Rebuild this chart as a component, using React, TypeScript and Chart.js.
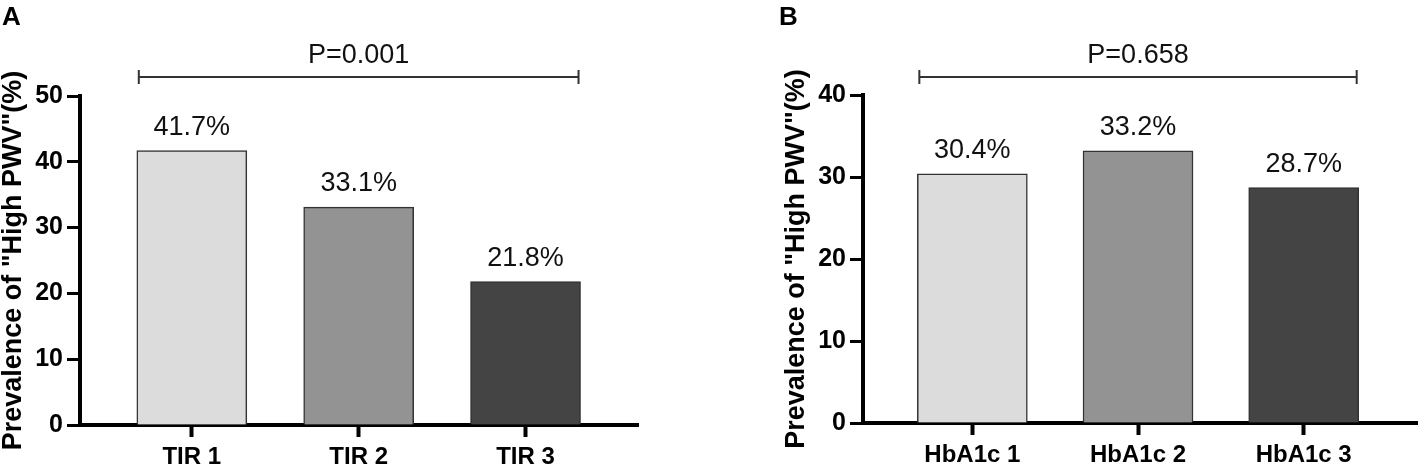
import { useEffect, useRef } from "react"
import { Chart, registerables } from "chart.js"

Chart.register(...registerables)

// panel A
const tirLabels = ["TIR 1", "TIR 2", "TIR 3"]
const tirValues = [41.7, 33.1, 21.8]
const tirTicks = [0, 10, 20, 30, 40, 50]
const tirP = "P=0.001"

// panel B
const hbLabels = ["HbA1c 1", "HbA1c 2", "HbA1c 3"]
const hbValues = [30.4, 33.2, 28.7]
const hbTicks = [0, 10, 20, 30, 40]
const hbP = "P=0.658"

const barColors = ["#dcdcdc", "#939393", "#444444"]
const yTitle = 'Prevalence of "High PWV"(%)'
const FONT = "'Liberation Sans', Arial, sans-serif"

type PanelProps = {
  letter: string
  letterX: number
  labels: string[]
  values: number[]
  ticks: number[]
  pText: string
  left: number
  padLeft: number
  top: number
  bottom: number
  xMin: number
  xMax: number
  plotWidth: number
}

function Panel(props: PanelProps) {
  const canvasRef = useRef<HTMLCanvasElement>(null)
  const { letter, letterX, labels, values, ticks, pText, left, padLeft, top, bottom, xMin, xMax, plotWidth } = props
  const width = padLeft + 80 + plotWidth
  const height = 467

  useEffect(() => {
    if (!canvasRef.current) return
    const ctx = canvasRef.current.getContext("2d")
    if (!ctx) return

    const annotate = {
      id: "annotate",
      afterDraw(chart: Chart) {
        const c = chart.ctx
        const x = chart.scales.x
        const y = chart.scales.y
        c.save()
        c.fillStyle = "#000"
        c.textAlign = "left"
        c.textBaseline = "alphabetic"
        c.font = `bold 26px ${FONT}`
        c.fillText(letter, letterX, 25)

        c.fillStyle = "#111"
        c.textAlign = "center"
        c.font = `27px ${FONT}`
        values.forEach((v, i) => {
          c.fillText(`${v.toFixed(1)}%`, x.getPixelForValue(i), y.getPixelForValue(v) - 16)
        })

        // significance bracket
        const x0 = x.getPixelForValue(0) - 53
        const x1 = x.getPixelForValue(values.length - 1) + 53
        c.strokeStyle = "#333"
        c.lineWidth = 2
        c.beginPath()
        c.moveTo(x0, 77)
        c.lineTo(x1, 77)
        c.moveTo(x0, 70)
        c.lineTo(x0, 84)
        c.moveTo(x1, 70)
        c.lineTo(x1, 84)
        c.stroke()
        c.fillText(pText, (x0 + x1) / 2, 63)
        c.restore()
      },
    }

    const chart = new Chart(ctx, {
      type: "bar",
      data: {
        datasets: [
          {
            data: values.map((v, i) => ({ x: i, y: v })),
            backgroundColor: barColors,
            borderColor: "#333",
            borderWidth: 1.5,
            barThickness: 110,
          },
        ],
      },
      options: {
        animation: false,
        responsive: false,
        layout: { padding: { top, left: padLeft, right: 0, bottom: 0 } },
        plugins: {
          legend: { display: false },
          tooltip: { enabled: false },
        },
        scales: {
          x: {
            type: "linear",
            min: xMin,
            max: xMax,
            offset: false,
            afterBuildTicks: (s: any) => {
              s.ticks = labels.map((_, i) => ({ value: i }))
            },
            afterFit: (s: any) => {
              s.height = height - bottom
            },
            grid: {
              offset: false,
              drawOnChartArea: false,
              drawTicks: true,
              tickLength: 12,
              tickWidth: 4,
              tickColor: "#000",
            },
            border: { color: "#000", width: 4 },
            ticks: {
              callback: (v: any) => labels[v] ?? "",
              color: "#000",
              font: { family: FONT, size: 24, weight: "bold" },
              padding: 6,
              maxRotation: 0,
              autoSkip: false,
            },
          },
          y: {
            min: 0,
            max: ticks[ticks.length - 1],
            afterBuildTicks: (s: any) => {
              s.ticks = ticks.map((v) => ({ value: v }))
            },
            afterFit: (s: any) => {
              s.width = 80
            },
            grid: {
              drawOnChartArea: false,
              drawTicks: true,
              tickLength: 13,
              tickWidth: 3,
              tickColor: "#000",
            },
            border: { color: "#000", width: 4 },
            ticks: {
              color: "#000",
              font: { family: FONT, size: 25, weight: "bold" },
              padding: 4,
            },
            title: {
              display: true,
              text: yTitle,
              color: "#000",
              font: { family: FONT, size: 27, weight: "bold", lineHeight: 1 },
              padding: 0,
            },
          },
        },
      },
      plugins: [annotate],
    })

    return () => {
      chart.destroy()
    }
  }, [])

  return (
    <canvas
      ref={canvasRef}
      width={width}
      height={height}
      style={{ position: "absolute", left, top: 0, width, height }}
    />
  )
}

export default function App() {
  return (
    <div
      style={{
        position: "absolute",
        left: 0,
        top: 0,
        width: 1418,
        height: 467,
        overflow: "hidden",
        background: "#fff",
      }}
    >
      <Panel
        letter="A"
        letterX={2}
        labels={tirLabels}
        values={tirValues}
        ticks={tirTicks}
        pText={tirP}
        left={0}
        padLeft={0}
        top={96}
        bottom={425}
        xMin={-0.67}
        xMax={2.68}
        plotWidth={559}
      />
      <Panel
        letter="B"
        letterX={9}
        labels={hbLabels}
        values={hbValues}
        ticks={hbTicks}
        pText={hbP}
        left={770}
        padLeft={13}
        top={95}
        bottom={423}
        xMin={-0.66}
        xMax={2.69}
        plotWidth={555}
      />
    </div>
  )
}
